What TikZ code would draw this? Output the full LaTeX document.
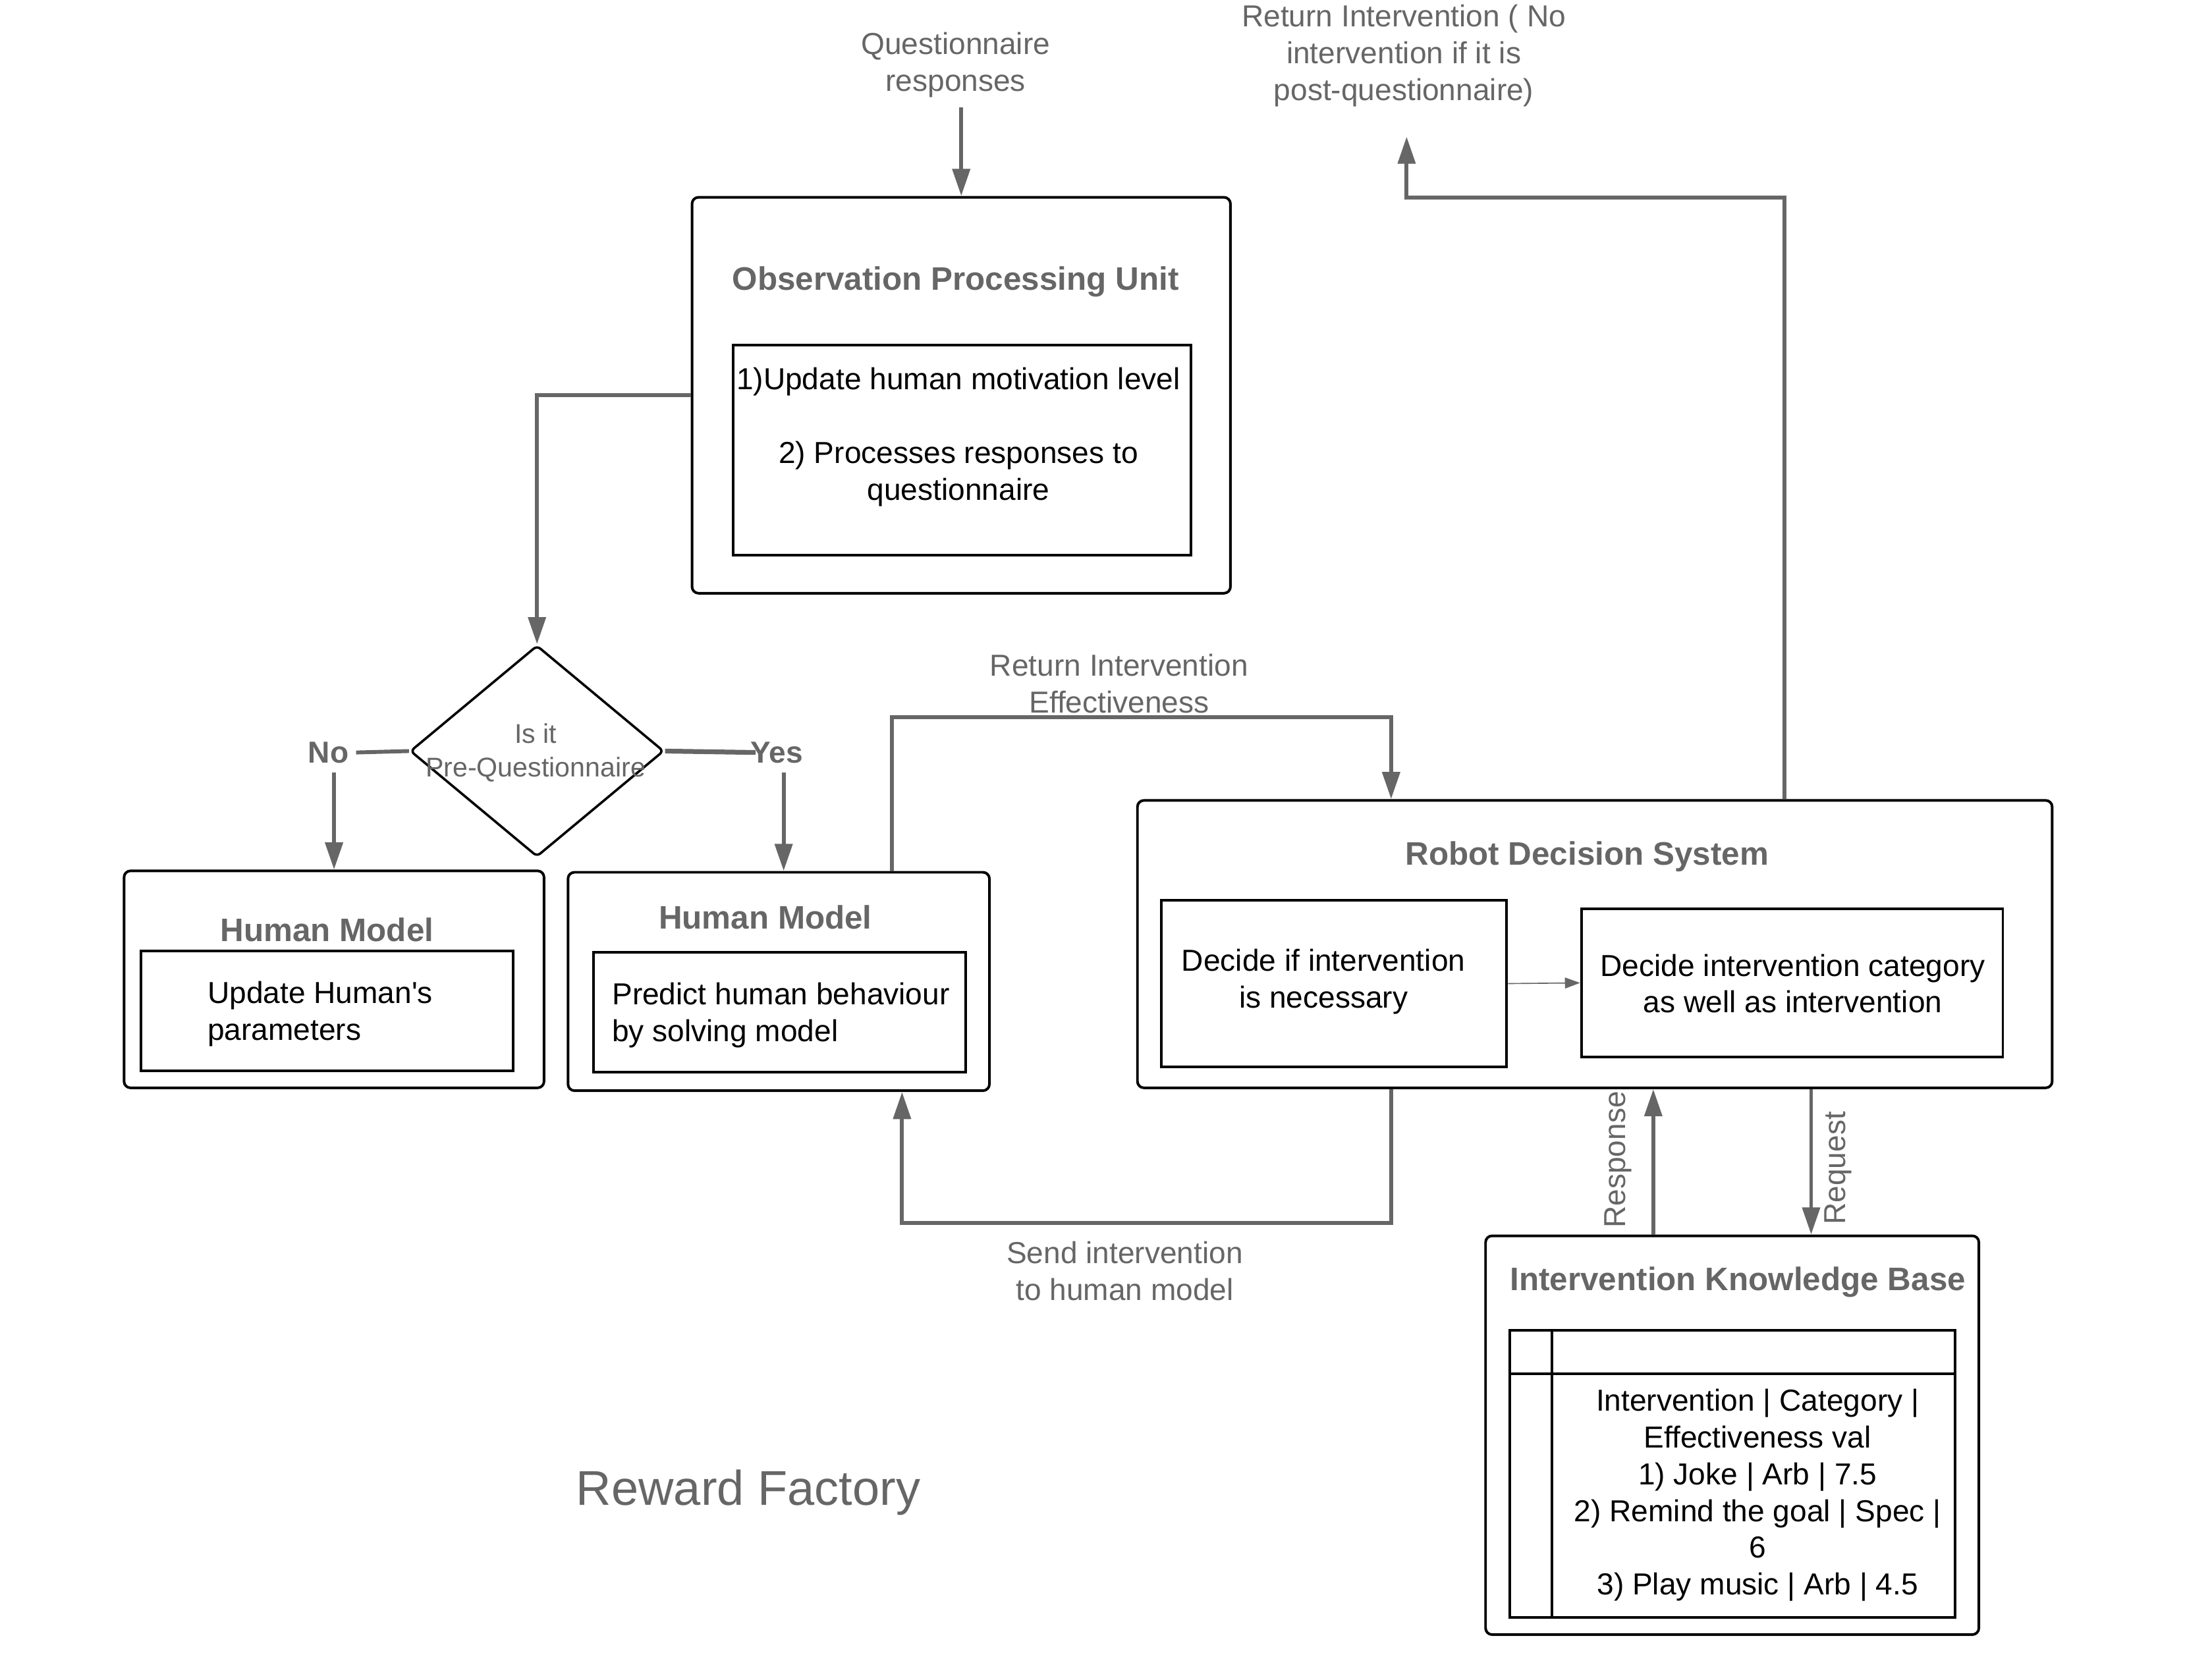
\documentclass[tikz,border=0pt]{standalone}
\usepackage{fontspec}
\setmainfont{Liberation Sans}
\usetikzlibrary{arrows.meta,shapes.geometric,calc}
\definecolor{ink}{HTML}{666666}

\begin{document}
\begin{tikzpicture}[x=0.65pt,y=-0.65pt,
  outer/.style 2 args={draw=black, line width=1.2pt, rounded corners=3pt, inner sep=0pt,
    minimum width=#1*0.65pt, minimum height=#2*0.65pt},
  inner/.style 2 args={draw=black, line width=1.2pt, inner sep=0pt,
    minimum width=#1*0.65pt, minimum height=#2*0.65pt},
  title/.style={font=\fontsize{15}{18}\selectfont\bfseries, text=ink, inner sep=0pt},
  body/.style={font=\fontsize{14}{17}\selectfont, text=black, inner sep=0pt, align=center},
  note/.style={font=\fontsize{14}{17}\selectfont, text=ink, inner sep=0pt, align=center},
  arr/.style={draw=ink, line width=1.8pt, -{Triangle[length=12.5pt,width=8pt]}},
  link/.style={draw=ink, line width=1.8pt},
]
\useasboundingbox (0,0) rectangle (1568,1192);

% ---------- Observation Processing Unit ----------
\node[outer={382}{281}] (opu) at (682,280.5) {};
\node[title] (opuT) at (678,200) {Observation Processing Unit};
\node[inner={325}{149}] (opuIn) at (682.5,319.5) {};
\node[body] (opuTx) at (680,310) {1)Update human motivation level\\[17pt]2) Processes responses to\\questionnaire};

\node[note] (qLbl) at (678,46) {Questionnaire\\responses};
\coordinate (qStart) at (682,76);

% ---------- decision ----------
\node[diamond, draw=black, line width=1.1pt, rounded corners=2pt, inner sep=0pt,
      minimum width=180*0.65pt, minimum height=150*0.65pt] (dia) at (381,533) {};
\node[note, font=\fontsize{12.5}{15.5}\selectfont] (diaTx) at (380,534) {Is it\\Pre-Questionnaire};

\node[note, font=\fontsize{14}{17}\selectfont\bfseries] (noLbl) at (233,534) {No};
\node[note, font=\fontsize{14}{17}\selectfont\bfseries] (yesLbl) at (551,534) {Yes};
\coordinate (noDrop) at (237,548);
\coordinate (yesDrop) at (556,548);

% ---------- Human models ----------
\node[outer={298}{154}] (hmA) at (237,695) {};
\node[title] (hmAT) at (232,660) {Human Model};
\node[inner={264}{85}] (hmAIn) at (232,717.5) {};
\node[body, align=left, anchor=west] (hmATx) at (147,719.5) {Update Human\textquotesingle s\\parameters};

\node[outer={299}{155}] (hmB) at (552.5,696.5) {};
\node[title] (hmBT) at (543,651) {Human Model};
\node[inner={264}{85}] (hmBIn) at (553,718.5) {};
\node[body, align=left, anchor=west] (hmBTx) at (434,720.5) {Predict human behaviour\\by solving model};

% ---------- Robot Decision System ----------
\node[outer={649}{204}] (rds) at (1131.5,670) {};
\node[title] (rdsT) at (1126,608) {Robot Decision System};
\node[inner={245}{118}] (rdsA) at (946.5,698) {};
\node[body] (rdsATx) at (939,696.5) {Decide if intervention\\is necessary};
\node[inner={299}{105}] (rdsB) at (1271.5,697.5) {};
\node[body] (rdsBTx) at (1272,698) {Decide intervention category\\as well as intervention};

% ---------- Intervention Knowledge Base ----------
\node[outer={350}{283}] (ikb) at (1229,1018.5) {};
\node[title] (ikbT) at (1233,910) {Intervention Knowledge Base};
\node[inner={316}{204}] (kbTab) at (1229,1046) {};
\draw[black, line width=1.2pt] ($(kbTab.north west)+(0,32)$) -- ($(kbTab.north east)+(0,32)$);
\draw[black, line width=1.2pt] ($(kbTab.north west)+(31,0)$) -- ($(kbTab.south west)+(31,0)$);
\node[body] (kbTx) at (1247,1061) {Intervention | Category |\\Effectiveness val\\1) Joke | Arb | 7.5\\2) Remind the goal | Spec |\\6\\3) Play music | Arb | 4.5};

% ---------- free labels ----------
\node[note] (effLbl) at (794,485) {Return Intervention\\Effectiveness};
\node[note] (retLbl) at (996,39.5) {Return Intervention ( No\\intervention if it is\\post-questionnaire)};
\node[note] (sendLbl) at (798,902) {Send intervention\\to human model};
\node[note, rotate=90] (respLbl) at (1148,823) {Response};
\node[note, rotate=90] (reqLbl) at (1304,829) {Request};
\node[note, font=\fontsize{22.5}{27}\selectfont] (rfLbl) at (531,1059) {Reward Factory};

% ---------- connectors ----------
\draw[arr] (qStart) -- (opu.north);
\draw[arr] (opu.west) -| (dia.north);
\draw[link] ($(noLbl.east)+(5,0)$) -- (dia.west);
\draw[arr] (noDrop) -- (noDrop |- hmA.north);
\draw[link, line width=2.2pt] (dia.east) -- ($(yesLbl.west)+(4,0)$);
\draw[arr] (yesDrop) -- (yesDrop |- hmB.north);

\coordinate (effUp) at (633,509);
\coordinate (effTurn) at (987,509);
\draw[arr] (effUp |- hmB.north) -- (effUp) -- (effTurn) -- (effTurn |- rds.north);

\coordinate (retTurn) at (998,140);
\coordinate (retEnd) at (998,97);
\draw[arr] (rds.north -| 1266,0) |- (retTurn) -- (retEnd);

\coordinate (sendTurn) at (987,868);
\coordinate (sendBack) at (640,868);
\draw[arr] (rds.south -| sendTurn) -- (sendTurn) -- (sendBack) -- (sendBack |- hmB.south);

\coordinate (respX) at (1173,0);
\coordinate (reqX) at (1285,0);
\draw[arr] (ikb.north -| respX) -- (rds.south -| respX);
\draw[arr] (rds.south -| reqX) -- (ikb.north -| reqX);

\draw[draw=ink, line width=0.5pt, -{Triangle[length=7pt,width=5pt]}] (rdsA.east) -- (rdsB.west);

\end{tikzpicture}
\end{document}
